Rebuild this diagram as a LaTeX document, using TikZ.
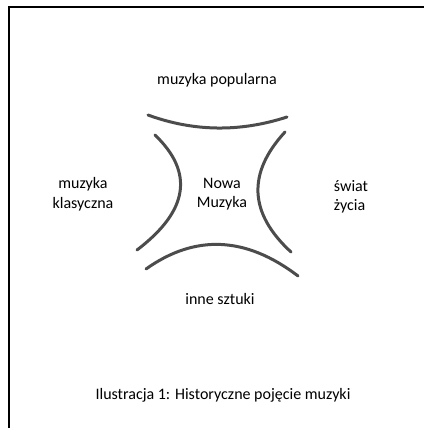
\documentclass[tikz,border=0pt]{standalone}
\usepackage{fontspec}
\setmainfont{Carlito}
\usetikzlibrary{positioning}

\begin{document}
\begin{tikzpicture}[
    x=1pt, y=-1pt,
    every node/.style={font=\fontsize{16}{19.5}\selectfont, inner sep=0pt},
    field/.style={align=center},
    bow/.style={draw=black!70, line width=3pt, line cap=round},
    frameline/.style={draw=black, line width=1.5pt}
]
\useasboundingbox (0,0) rectangle (424,428);

% Frame
\coordinate (fbl) at (9,428);
\coordinate (ftl) at (9,7);
\coordinate (ftr) at (424,7);
\draw[frameline] (fbl) -- (ftl) -- (ftr);

% Centre
\node[field] (nowa) at (222,194) {Nowa\\Muzyka};

% Surrounding fields
\node[field] (popular) at (217,80) {muzyka popularna};
\node[field] (classical) at (83,194) {muzyka\\klasyczna};
\node[align=left] (world) at (351,197) {świat\\życia};
\node[field] (arts) at (220,299) {inne sztuki};

% Bows round the centre
\draw[bow] (148,115) .. controls (193.7,131.7) and (240,132.3) .. (287,117);
\draw[bow] (155,135) .. controls (194.3,172.7) and (188.3,211) .. (137,250);
\draw[bow] (285,132) .. controls (247,173.3) and (249,213.3) .. (291,252);
\draw[bow] (146,269) .. controls (195.3,234) and (246,236.3) .. (298,276);

% Caption
\node (caption) at (223,395) {Ilustracja 1: Historyczne pojęcie muzyki};

\end{tikzpicture}
\end{document}
